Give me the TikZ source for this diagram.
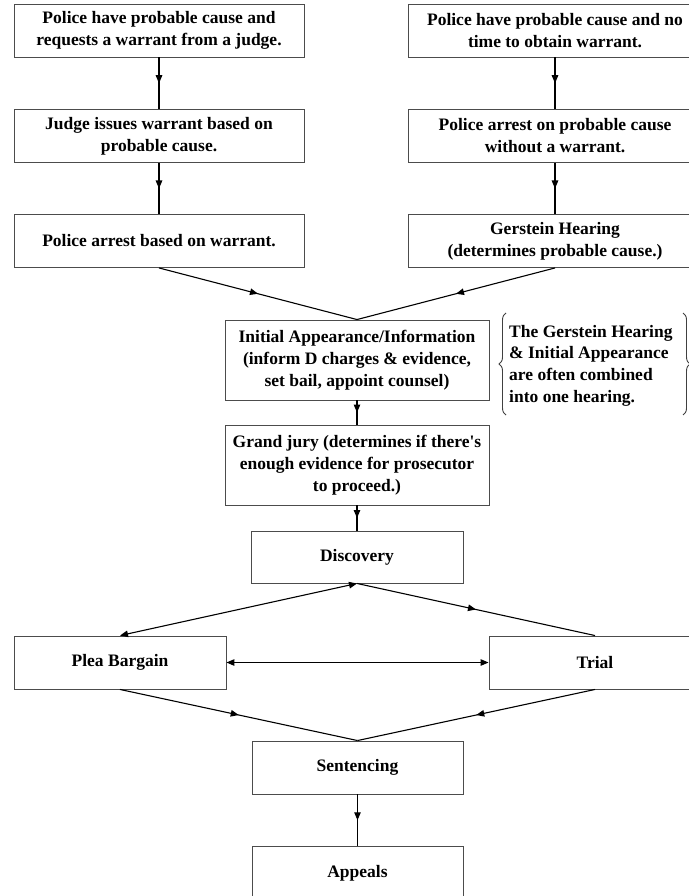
\documentclass[tikz,border=0pt]{standalone}
\usepackage{fontspec}
\setmainfont{Liberation Serif}[Ligatures=TeXOff]
\usetikzlibrary{arrows.meta,decorations.markings,decorations.pathreplacing}

\tikzset{headtip/.tip={Triangle[length=8pt,width=6.5pt]}}

\begin{document}
\begin{tikzpicture}[x=1pt,y=-1pt,
  box/.style={draw=black!70, line width=0.9pt, fill=white, align=center,
    inner sep=0pt, minimum height=53pt,
    font=\fontsize{17.5}{22}\selectfont\bfseries},
  flow/.style={line width=1.1pt, postaction={decorate},
    decoration={markings, mark=at position 0.5 with {\arrow{headtip}}}},
  both/.style={line width=1.1pt, headtip-headtip},
  bracestyle/.style={draw=black!75, line width=0.9pt,
    decorate, decoration={brace, amplitude=7pt, raise=0pt}},
  notetext/.style={align=left, inner sep=0pt,
    font=\fontsize{17.5}{21.7}\selectfont\bfseries}]

\useasboundingbox (0,0) rectangle (688,896);

% warrant path (left column)
\node[box, minimum width=290pt] (a1) at (159,30.5)
  {Police have probable cause and\\requests a warrant from a judge.};
\node[box, minimum width=290pt] (a2) at (159,136)
  {Judge issues warrant based on\\probable cause.};
\node[box, minimum width=290pt] (a3) at (159,241)
  {Police arrest based on warrant.};

% warrantless path (right column)
\node[box, minimum width=294pt] (b1) at (555,30.5)
  {Police have probable cause and no\\time to obtain warrant.};
\node[box, minimum width=294pt] (b2) at (555,136)
  {Police arrest on probable cause\\without a warrant.};
\node[box, minimum width=294pt] (b3) at (555,241)
  {Gerstein Hearing\\(determines probable cause.)};

% common path
\node[box, minimum width=264pt, minimum height=80pt] (ia) at (357,360)
  {Initial Appearance/Information\\(inform D charges \& evidence,\\set bail, appoint counsel)};
\node[box, minimum width=264pt, minimum height=80pt] (gj) at (357,465)
  {Grand jury (determines if there's\\enough evidence for prosecutor\\to proceed.)};
\node[box, minimum width=212pt, minimum height=52pt] (disc) at (357,557) {Discovery};
\node[box, minimum width=212pt] (plea) at (120,662.5) {Plea Bargain};
\node[box, minimum width=212pt] (trial) at (595,662.5) {Trial};
\node[box, minimum width=211pt] (sent) at (357.5,767.5) {Sentencing};
\node[box, minimum width=211pt] (app) at (357.5,873) {Appeals};

% side note with braces
\node[notetext, anchor=west] (note) at (509,365.5)
  {The Gerstein Hearing\\\& Initial Appearance\\are often combined\\into one hearing.};
\coordinate (lbB) at (506,415);
\coordinate (lbT) at (506,313);
\coordinate (rbT) at (683,313);
\coordinate (rbB) at (683,415);
\draw[bracestyle] (lbB) -- (lbT);
\draw[bracestyle] (rbT) -- (rbB);

% connectors
\draw[flow] (a1.south) -- (a2.north);
\draw[flow] (a2.south) -- (a3.north);
\draw[flow] (b1.south) -- (b2.north);
\draw[flow] (b2.south) -- (b3.north);
\draw[flow] (a3.south) -- (ia.north);
\draw[flow] (b3.south) -- (ia.north);
\draw[flow] (ia.south) -- (gj.north);
\draw[flow] (gj.south) -- (disc.north);
\draw[both] (disc.south) -- (plea.north);
\draw[flow] (disc.south) -- (trial.north);
\draw[both] (plea.east) -- (trial.west);
\draw[flow] (plea.south) -- (sent.north);
\draw[flow] (trial.south) -- (sent.north);
\draw[flow] (sent.south) -- (app.north);
\end{tikzpicture}
\end{document}
